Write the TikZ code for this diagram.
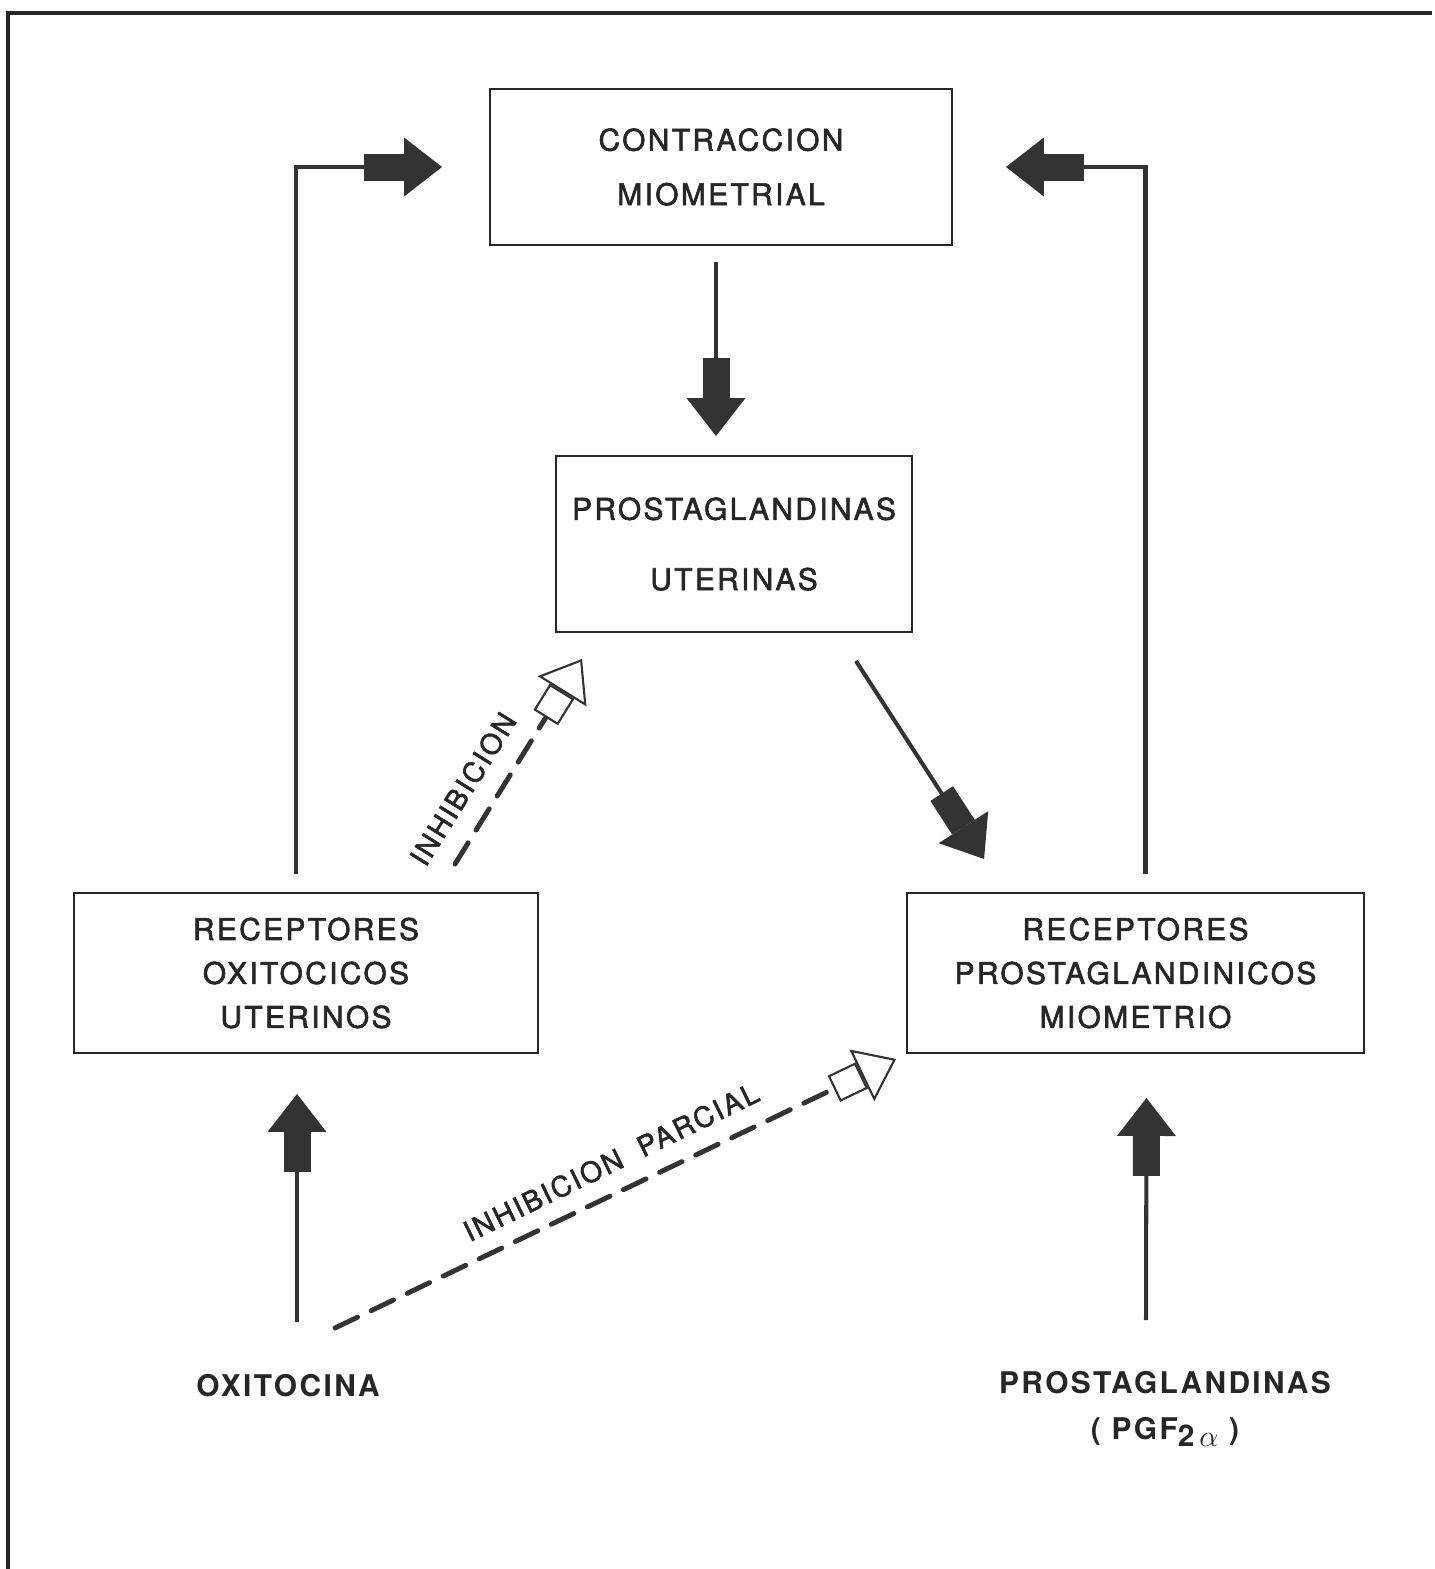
\documentclass[tikz,border=0pt]{standalone}
\usepackage{fontspec}
\setmainfont[LetterSpace=8,FakeBold=2]{TeX Gyre Heros}
\newfontfamily\lblfont[LetterSpace=8]{TeX Gyre Heros}
\usetikzlibrary{arrows.meta,calc}

\begin{document}
\begin{tikzpicture}[x=0.02cm, y=-0.02cm,
	every node/.style={font=\fontsize{17}{31}\selectfont, text=black!85},
	box/.style={draw=black!85, line width=1.1pt, align=center, inner sep=0pt},
	fat/.style={draw=black!80, line width=2.3pt, -{Rectangle[length=0.8cm,width=0.54cm] Triangle[length=0.76cm,width=1.16cm]}},
	inhib/.style={draw=black!80, line width=2.8pt, line cap=round, dash pattern=on 0.5cm off 0.3cm,
		-{Rectangle[open,fill=white,length=0.62cm,width=0.58cm,line width=1.2pt] Triangle[open,fill=white,length=0.76cm,width=1.14cm,line width=1.2pt]}}]
	\useasboundingbox (0,0) rectangle (1435,1569);
	\draw[black!85, line width=1.8pt] (8,1569) -- (8,13) -- (1432,13);
	% boxes
	\node[box, minimum width=9.24cm, minimum height=3.12cm] (cm) at (721,167) {CONTRACCION\\MIOMETRIAL};
	\node[box, minimum width=7.12cm, minimum height=3.52cm] (pu) at (734,544) {PROSTAGLANDINAS\\[9pt]UTERINAS};
	\node[box, minimum width=9.28cm, minimum height=3.2cm, font=\fontsize{17}{25}\selectfont] (ro) at (306,973) {RECEPTORES\\OXITOCICOS\\UTERINOS};
	\node[box, minimum width=9.14cm, minimum height=3.2cm, font=\fontsize{17}{25}\selectfont] (rp) at (1135.5,973) {RECEPTORES\\PROSTAGLANDINICOS\\MIOMETRIO};
	% inputs
	\node[font=\fontsize{17}{26}\selectfont\lblfont\bfseries] (ox) at (288,1386) {OXITOCINA};
	\node[font=\fontsize{17}{26}\selectfont\lblfont\bfseries, align=center] (pg) at (1165,1409) {PROSTAGLANDINAS\\( PGF\raisebox{-0.45ex}{2\,$\alpha$} )};
	% arrows
	\draw[fat] ($(ro.north)+(-10,-18)$) |- ($(cm.west)+(-47,0)$);
	\draw[fat] ($(rp.north)+(10,-18)$) |- ($(cm.east)+(53,0)$);
	\draw[fat] ($(cm.south)+(-5,16)$) -- ($(pu.north)+(-18,-19)$);
	\draw[fat] ($(pu.south east)+(-57,28)$) -- ($(rp.north west)+(78,-33)$);
	\draw[fat] ($(ox.center)+(9,-64)$) -- ($(ro.south)+(-9,40)$);
	\draw[fat] ($(pg.center)+(-19,-89)$) -- ($(rp.south)+(11,44)$);
	\draw[inhib] ($(ro.north)+(149,-28)$) -- ($(pu.south west)+(27,26)$);
	\draw[inhib] ($(ox.center)+(47,-58)$) -- ($(rp.south west)+(-10,5)$);
	\node[rotate=58, font=\fontsize{16}{20}\selectfont] (lbi) at (463,789) {INHIBICION};
	\node[rotate=26, font=\fontsize{16}{20}\selectfont] (lbp) at (611,1162) {INHIBICION\hspace{0.7em}PARCIAL};
\end{tikzpicture}
\end{document}
